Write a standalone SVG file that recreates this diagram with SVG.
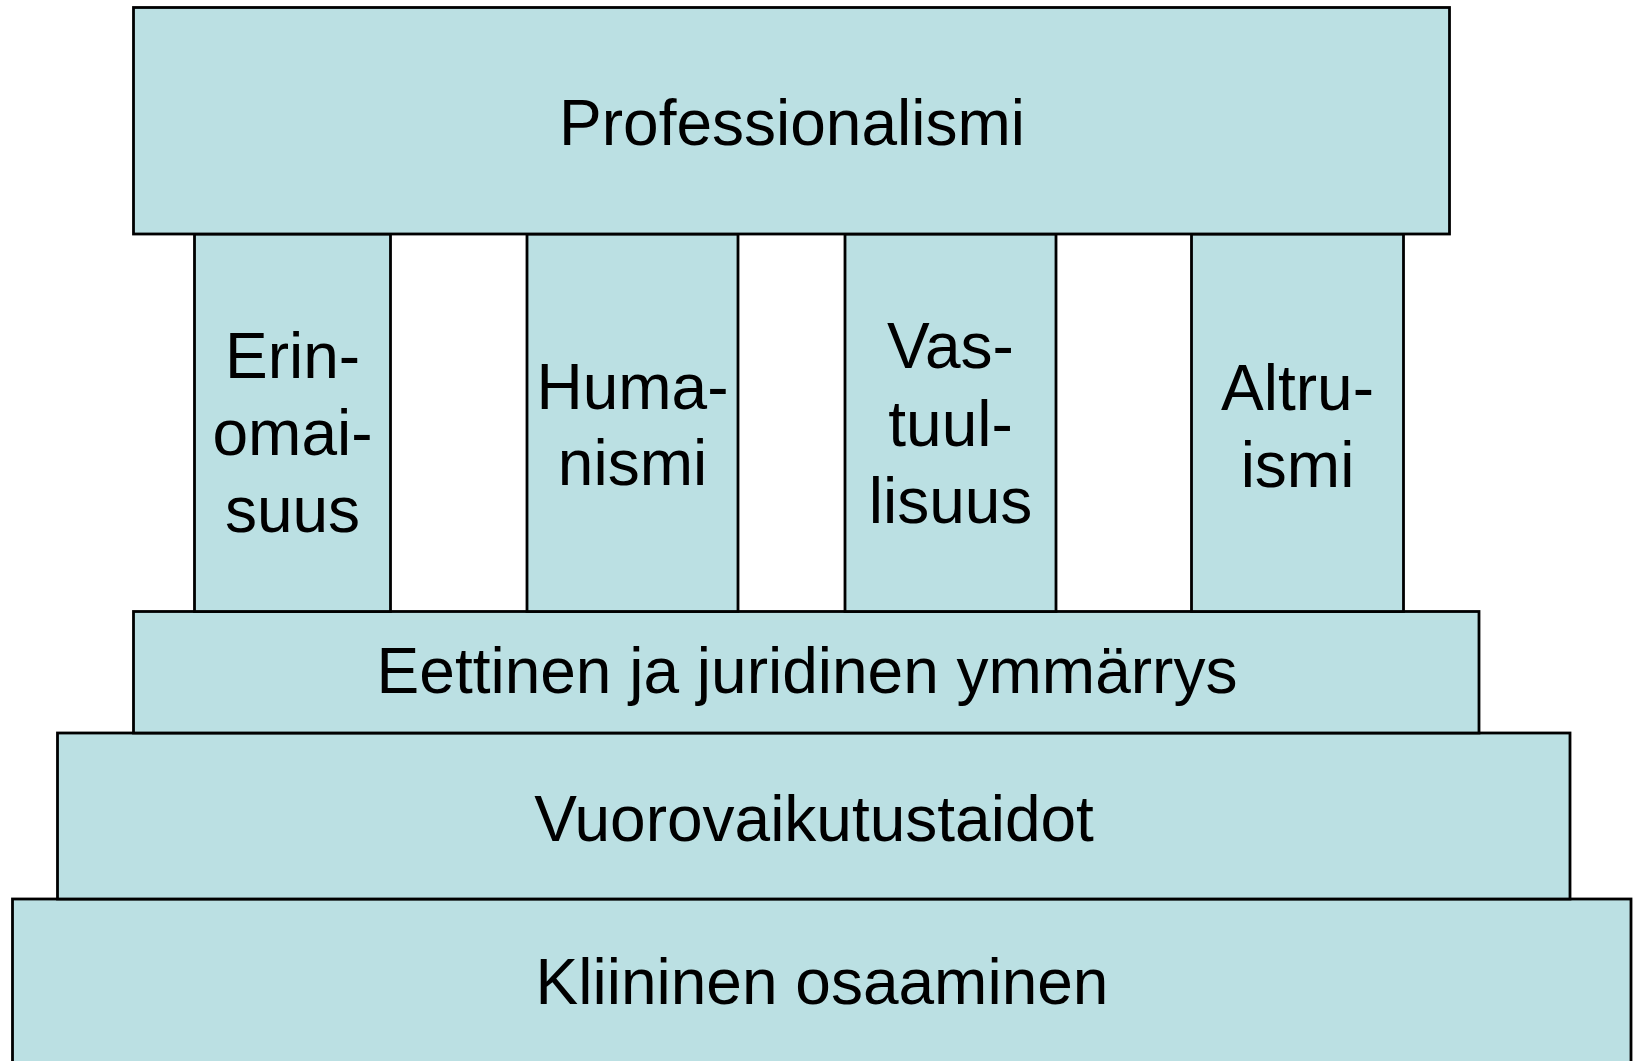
<svg xmlns="http://www.w3.org/2000/svg" width="1637" height="1061" viewBox="0 0 1637 1061">
<style>
.b{fill:#BBE0E3;stroke:#000;stroke-width:2.8}
.t{font-family:"Liberation Sans",Arial,sans-serif;font-size:64px;fill:#000;text-anchor:middle}
</style>
<rect width="1637" height="1061" fill="#fff"/>
<g id="kliininen"><rect class="b" x="12.5" y="899" width="1618.5" height="170"/><text class="t" x="822" y="1004">Kliininen osaaminen</text></g>
<g id="vuorovaikutus"><rect class="b" x="57.5" y="733" width="1512.5" height="166"/><text class="t" x="814" y="841">Vuorovaikutustaidot</text></g>
<g id="eettinen"><rect class="b" x="133.5" y="611.5" width="1345.5" height="121.5"/><text class="t" x="807" y="693">Eettinen ja juridinen ymmärrys</text></g>
<g id="erinomaisuus"><rect class="b" x="194.5" y="234" width="196" height="377.5"/><text class="t" x="292.5" y="378">Erin-</text><text class="t" x="292.5" y="455">omai-</text><text class="t" x="292.5" y="532">suus</text></g>
<g id="humanismi"><rect class="b" x="527" y="234" width="211" height="377.5"/><text class="t" x="632.5" y="409">Huma-</text><text class="t" x="632.5" y="485">nismi</text></g>
<g id="vastuullisuus"><rect class="b" x="845" y="234" width="211" height="377.5"/><text class="t" x="950.5" y="368">Vas-</text><text class="t" x="950.5" y="446">tuul-</text><text class="t" x="950.5" y="523">lisuus</text></g>
<g id="altruismi"><rect class="b" x="1191.5" y="234" width="212" height="377.5"/><text class="t" x="1297.5" y="410">Altru-</text><text class="t" x="1297.5" y="487">ismi</text></g>
<g id="professionalismi"><rect class="b" x="133.5" y="7.5" width="1316" height="226.5"/><text class="t" x="792" y="145">Professionalismi</text></g>
<g id="connectors"></g>
</svg>
